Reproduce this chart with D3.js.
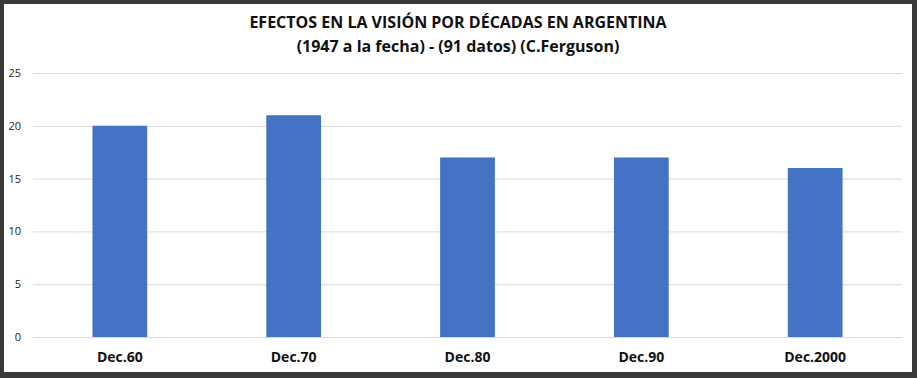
<!DOCTYPE html>
<html><head><meta charset="utf-8">
<script src="https://cdn.jsdelivr.net/npm/d3@7"></script>
<style>
html,body{margin:0;padding:0;background:#fff;}
svg{display:block;}
</style></head>
<body>
<svg id="chart" width="917" height="378"></svg>
<script>
const categories = ["Dec.60", "Dec.70", "Dec.80", "Dec.90", "Dec.2000"];
const values = [20, 21, 17, 17, 16];
const yTicks = [0, 5, 10, 15, 20, 25];
const titleLines = ["EFECTOS EN LA VISIÓN POR DÉCADAS EN ARGENTINA", "(1947 a la fecha) - (91 datos) (C.Ferguson)"];

const svg = d3.select("#chart");
const W = 917, H = 378;
const font = "'Open Sans', 'Noto Sans', sans-serif";

// frame
svg.append("rect").attr("x",0).attr("y",0).attr("width",W).attr("height",H).attr("fill","#3a3a3a");
svg.append("rect").attr("x",4).attr("y",4).attr("width",908).attr("height",368).attr("fill","#fff");

const m = {left:33, right:902, top:73, bottom:337};
const x = d3.scaleBand().domain(categories).range([m.left, m.right]).paddingInner(0.685).paddingOuter(0.342);
const y = d3.scaleLinear().domain([0,25]).range([m.bottom, m.top]);

// gridlines
svg.append("g").selectAll("line").data(yTicks).join("line")
  .attr("x1", m.left).attr("x2", m.right)
  .attr("y1", d=>y(d)+0.5).attr("y2", d=>y(d)+0.5)
  .attr("stroke","#d9d9d9").attr("stroke-width",1);

// y axis labels
const yAxis = d3.axisLeft(y).tickValues(yTicks).tickSize(0).tickPadding(0);
const gy = svg.append("g").attr("transform",`translate(${m.left-12},0)`).call(yAxis);
gy.select(".domain").remove();
gy.selectAll("text").attr("font-family",font).attr("font-size",11).attr("fill","#222");

// bars
svg.append("g").selectAll("rect").data(values).join("rect")
  .attr("x",(d,i)=>x(categories[i]))
  .attr("width",x.bandwidth())
  .attr("y",d=>y(d))
  .attr("height",d=>y(0)-y(d))
  .attr("fill","#4472c4");

// x axis labels
const xAxis = d3.axisBottom(x).tickSize(0).tickPadding(0);
const gx = svg.append("g").attr("transform",`translate(0,${m.bottom+15})`).call(xAxis);
gx.select(".domain").remove();
gx.selectAll("text").attr("font-family",font).attr("font-size",14).attr("font-weight","bold").attr("fill","#111");

// title
svg.append("g").selectAll("text").data(titleLines).join("text")
  .attr("x", 458).attr("y",(d,i)=>28+i*24)
  .attr("text-anchor","middle")
  .attr("font-family",font).attr("font-size",16).attr("font-weight","bold").attr("fill","#111")
  .text(d=>d);
</script>
</body></html>
